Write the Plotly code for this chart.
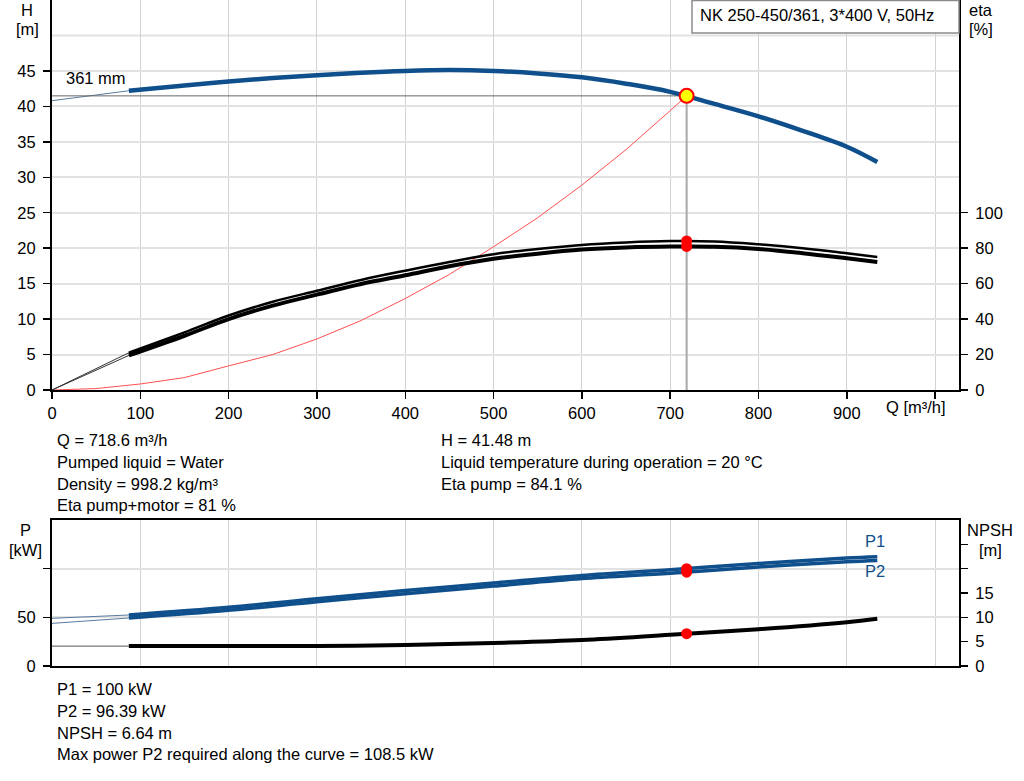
import plotly.graph_objects as go

# ---------------- data ----------------
# Pump head curve (thick part) and thin extension to Q=0
Q_H = [87, 150, 200, 250, 300, 350, 400, 450, 500, 550, 600, 650, 700, 750, 800, 850, 900, 934.5]
H = [42.2, 42.95, 43.5, 44.0, 44.4, 44.75, 45.0, 45.12, 45.0, 44.65, 44.1, 43.2, 42.05, 40.35, 38.6, 36.55, 34.3, 32.15]
Q_H_ext = [0, 87]
H_ext = [40.8, 42.2]

# System curve (red)
Q_sys = [0, 50, 100, 150, 200, 250, 300, 350, 400, 450, 500, 550, 600, 650, 700, 718.6]
H_sys = [0, 0.2, 0.85, 1.75, 3.4, 5.0, 7.2, 9.8, 12.9, 16.3, 20.2, 24.3, 28.9, 33.9, 39.4, 41.48]

# Efficiency curves
Q_eta = [87, 150, 200, 250, 300, 350, 400, 450, 500, 550, 600, 650, 700, 750, 800, 850, 900, 934.5]
eta_pump = [21.0, 32.5, 42.0, 49.8, 56.0, 62.1, 67.3, 72.2, 76.6, 79.5, 81.8, 83.2, 84.0, 83.8, 82.2, 80.0, 77.1, 75.0]
eta_total = [19.5, 30.6, 40.0, 47.6, 53.8, 59.8, 64.7, 69.8, 74.0, 76.9, 79.2, 80.4, 80.9, 80.8, 79.6, 77.2, 74.3, 72.2]
Q_eta_ext = [0, 87]
eta_pump_ext = [0, 21.0]
eta_total_ext = [0, 19.5]

# Power curves
Q_P = [87, 200, 300, 400, 500, 600, 700, 800, 900, 934.5]
P1 = [52.4, 60.3, 69.0, 77.5, 85.3, 93.0, 98.9, 105.3, 110.9, 112.3]
P2 = [49.3, 57.2, 66.0, 74.3, 82.1, 89.8, 95.3, 101.8, 107.2, 108.5]
Q_P_ext = [0, 87]
P1_ext = [49.0, 52.4]
P2_ext = [43.8, 49.3]

# NPSH curve
Q_N = [87, 200, 300, 400, 500, 600, 700, 800, 900, 934.5]
NPSH = [4.1, 4.1, 4.12, 4.3, 4.75, 5.35, 6.43, 7.55, 9.0, 9.7]
Q_N_ext = [0, 87]
NPSH_ext = [4.1, 4.1]

# Duty point
Q_op = 718.6
H_op = 41.48
eta_pump_op = 84.1
eta_total_op = 81.0
P1_op = 100.0
P2_op = 96.39
NPSH_op = 6.64

# Ticks
x_ticks = [0, 100, 200, 300, 400, 500, 600, 700, 800, 900, 1000]
x_ticktext = ["0", "100", "200", "300", "400", "500", "600", "700", "800", "900", ""]
h_ticks = [0, 5, 10, 15, 20, 25, 30, 35, 40, 45]
eta_ticks = [0, 20, 40, 60, 80, 100]
p_ticks = [0, 50, 100]
p_ticktext = ["0", "50", ""]
npsh_ticks = [0, 5, 10, 15, 20, 25]
npsh_ticktext = ["0", "5", "10", "15", "", ""]

title_box = "NK 250-450/361, 3*400 V, 50Hz"
info_left = ["Q = 718.6 m³/h", "Pumped liquid = Water", "Density = 998.2 kg/m³", "Eta pump+motor = 81 %"]
info_right = ["H = 41.48 m", "Liquid temperature during operation = 20 °C", "Eta pump = 84.1 %"]
info_bottom = ["P1 = 100 kW", "P2 = 96.39 kW", "NPSH = 6.64 m", "Max power P2 required along the curve = 108.5 kW"]

# ---------------- styling ----------------
W, Hh = 1024, 781
ML, MR, MT, MB = 52, 65, 0, 115
PW = W - ML - MR
PH = Hh - MT - MB
FONT = "Liberation Sans, Arial, sans-serif"
BLUE = "#0f4f8c"
FS = 16.5
SM = 1.0


def px(xp):
    return (xp - ML) / PW


def py(yp):
    return (PH + MT - yp) / PH


fig = go.Figure()

# --- top plot ---
fig.add_trace(go.Scatter(x=Q_H_ext, y=H_ext, mode="lines", line=dict(color="#5a7aa0", width=1),
                         xaxis="x", yaxis="y"))
fig.add_trace(go.Scatter(x=Q_sys, y=H_sys, mode="lines", line=dict(color="#ff5050", width=1),
                         xaxis="x", yaxis="y"))
fig.add_trace(go.Scatter(x=[0, Q_op], y=[H_op, H_op], mode="lines", line=dict(color="#666666", width=1),
                         xaxis="x", yaxis="y"))
fig.add_trace(go.Scatter(x=[Q_op, Q_op], y=[H_op, 0], mode="lines", line=dict(color="#a8a8a8", width=2),
                         xaxis="x", yaxis="y"))
fig.add_trace(go.Scatter(x=Q_H, y=H, mode="lines", line=dict(color=BLUE, width=4.5, shape="spline", smoothing=SM),
                         xaxis="x", yaxis="y"))

fig.add_trace(go.Scatter(x=Q_eta_ext, y=eta_pump_ext, mode="lines", line=dict(color="#333333", width=1),
                         xaxis="x", yaxis="y2"))
fig.add_trace(go.Scatter(x=Q_eta_ext, y=eta_total_ext, mode="lines", line=dict(color="#333333", width=1),
                         xaxis="x", yaxis="y2"))
fig.add_trace(go.Scatter(x=Q_eta, y=eta_pump, mode="lines", line=dict(color="black", width=2.5, shape="spline", smoothing=SM),
                         xaxis="x", yaxis="y2"))
fig.add_trace(go.Scatter(x=Q_eta, y=eta_total, mode="lines", line=dict(color="black", width=4, shape="spline", smoothing=SM),
                         xaxis="x", yaxis="y2"))
fig.add_trace(go.Scatter(x=[Q_op, Q_op], y=[eta_pump_op, eta_total_op], mode="markers",
                         marker=dict(color="#ff0000", size=11), xaxis="x", yaxis="y2"))
fig.add_trace(go.Scatter(x=[Q_op], y=[H_op], mode="markers",
                         marker=dict(color="#ffff00", size=14, line=dict(color="#ff0000", width=2)),
                         xaxis="x", yaxis="y"))

# --- bottom plot ---
fig.add_trace(go.Scatter(x=Q_P_ext, y=P1_ext, mode="lines", line=dict(color="#5a7aa0", width=1),
                         xaxis="x2", yaxis="y3"))
fig.add_trace(go.Scatter(x=Q_P_ext, y=P2_ext, mode="lines", line=dict(color="#5a7aa0", width=1),
                         xaxis="x2", yaxis="y3"))
fig.add_trace(go.Scatter(x=Q_P, y=P1, mode="lines", line=dict(color=BLUE, width=3.5, shape="spline", smoothing=SM),
                         xaxis="x2", yaxis="y3"))
fig.add_trace(go.Scatter(x=Q_P, y=P2, mode="lines", line=dict(color=BLUE, width=3.5, shape="spline", smoothing=SM),
                         xaxis="x2", yaxis="y3"))
fig.add_trace(go.Scatter(x=Q_N_ext, y=NPSH_ext, mode="lines", line=dict(color="#777777", width=1.2),
                         xaxis="x2", yaxis="y4"))
fig.add_trace(go.Scatter(x=Q_N, y=NPSH, mode="lines", line=dict(color="black", width=4, shape="spline", smoothing=SM),
                         xaxis="x2", yaxis="y4"))
fig.add_trace(go.Scatter(x=[Q_op, Q_op], y=[P1_op, P2_op], mode="markers",
                         marker=dict(color="#ff0000", size=11), xaxis="x2", yaxis="y3"))
fig.add_trace(go.Scatter(x=[Q_op], y=[NPSH_op], mode="markers",
                         marker=dict(color="#ff0000", size=11), xaxis="x2", yaxis="y4"))

tickfont = dict(family=FONT, size=FS, color="black")
XR = [0, 1027]
top_dom = [py(390), 1.0]
bot_dom = [0.0, py(520)]

fig.update_layout(
    width=W, height=Hh,
    margin=dict(l=ML, r=MR, t=MT, b=MB, pad=0),
    paper_bgcolor="white", plot_bgcolor="white",
    showlegend=False,
    hovermode=False,
    font=dict(family=FONT, size=FS, color="black"),
    xaxis=dict(domain=[0, 1], range=XR, anchor="y", tickvals=x_ticks, ticktext=x_ticktext,
               ticks="outside", ticklen=7, tickwidth=1.5, tickcolor="black",
               showline=True, linecolor="black", linewidth=2,
               showgrid=True, gridcolor="#d2d2d2", gridwidth=1, zeroline=False, tickfont=tickfont),
    yaxis=dict(domain=top_dom, range=[0, 55], anchor="x", tickvals=h_ticks,
               ticks="outside", ticklen=7, tickwidth=1.5, tickcolor="black",
               showline=True, linecolor="black", linewidth=2, ticklabelstandoff=4,
               showgrid=True, gridcolor="#e2e2e2", gridwidth=2, zeroline=False, tickfont=tickfont),
    yaxis2=dict(range=[0, 220], overlaying="y", side="right", anchor="x", tickvals=eta_ticks,
                ticks="outside", ticklen=7, tickwidth=1.5, tickcolor="black",
                showline=True, linecolor="black", linewidth=2, ticklabelstandoff=4,
                showgrid=False, zeroline=False, tickfont=tickfont),
    xaxis2=dict(domain=[0, 1], range=XR, anchor="y3", tickvals=x_ticks, showticklabels=False,
                ticks="", showline=True, linecolor="black", linewidth=2, mirror=True,
                showgrid=True, gridcolor="#d2d2d2", gridwidth=1, zeroline=False),
    yaxis3=dict(domain=bot_dom, range=[0, 150], anchor="x2", tickvals=p_ticks, ticktext=p_ticktext,
                ticks="outside", ticklen=7, tickwidth=1.5, tickcolor="black",
                showline=True, linecolor="black", linewidth=2, ticklabelstandoff=4,
                showgrid=True, gridcolor="#e2e2e2", gridwidth=2, zeroline=False, tickfont=tickfont),
    yaxis4=dict(range=[0, 30], overlaying="y3", side="right", anchor="x2", tickvals=npsh_ticks,
                ticktext=npsh_ticktext,
                ticks="outside", ticklen=7, tickwidth=1.5, tickcolor="black",
                showline=True, linecolor="black", linewidth=2, ticklabelstandoff=4,
                showgrid=False, zeroline=False, tickfont=tickfont),
)

shapes = [
    # gridline at H=50 (no tick label)
    dict(type="line", xref="paper", yref="y", x0=0, x1=1, y0=50, y1=50,
         line=dict(color="#e2e2e2", width=2), layer="below"),
    # title box
    dict(type="rect", xref="paper", yref="paper", x0=px(692), x1=1.0, y0=py(33), y1=py(0.5),
         line=dict(color="#8c8c8c", width=1.5), fillcolor="white", layer="above"),
]
fig.update_layout(shapes=shapes)

ann = []


def txt(x, y, s, xanchor="left", color="black", size=FS):
    ann.append(dict(x=px(x), y=py(y), xref="paper", yref="paper", text=s, showarrow=False,
                    xanchor=xanchor, yanchor="middle", font=dict(family=FONT, size=size, color=color)))


txt(698, 15, title_box)
txt(27, 10, "H", "center")
txt(27, 29, "[m]", "center")
txt(981, 10, "eta", "center")
txt(981, 29, "[%]", "center")
txt(916, 407, "Q [m³/h]", "center")
txt(64, 78, "361 mm")
txt(25, 530, "P", "center")
txt(25, 550, "[kW]", "center")
txt(990, 530, "NPSH", "center")
txt(990, 550, "[m]", "center")
txt(875, 541, "P1", "center", BLUE)
txt(875, 571, "P2", "center", BLUE)

for i, s in enumerate(info_left):
    txt(55, 440 + 21.8 * i, s)
for i, s in enumerate(info_right):
    txt(439, 440 + 21.8 * i, s)
for i, s in enumerate(info_bottom):
    txt(55, 689 + 21.8 * i, s)

fig.update_layout(annotations=ann)

fig.write_html("out.html", config={"displayModeBar": False, "staticPlot": True},
               post_script="document.body.style.margin='0px';document.body.style.overflow='hidden';")
